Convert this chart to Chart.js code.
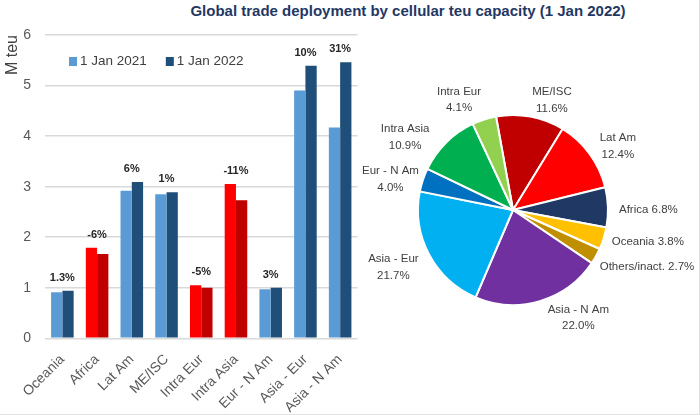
<!DOCTYPE html>
<html><head><meta charset="utf-8">
<script src="https://cdn.jsdelivr.net/npm/chart.js@4"></script>
<style>
html,body{margin:0;padding:0;background:#fff;}
#wrap{position:relative;width:700px;height:415px;overflow:hidden;box-sizing:border-box;border-right:1px solid #e2e2e2;border-bottom:1px solid #e2e2e2;}
#title{position:absolute;left:408px;top:2px;transform:translateX(-50%);white-space:nowrap;font:bold 15px "Liberation Sans",Arial,sans-serif;color:#1F3864;line-height:17px;}
#bar{position:absolute;left:0;top:0;}
#pie{position:absolute;left:340px;top:0;}
</style>
</head><body>
<div id="wrap">
<div id="title">Global trade deployment by cellular teu capacity (1 Jan 2022)</div>
<canvas id="bar" width="372" height="415"></canvas>
<canvas id="pie" width="359" height="415"></canvas>
</div>
<script>
// ---- data ----
const categories = ['Oceania','Africa','Lat Am','ME/ISC','Intra Eur','Intra Asia','Eur - N Am','Asia - Eur','Asia - N Am'];
const seriesNames = ['1 Jan 2021','1 Jan 2022'];
const teu2021 = [0.91,1.79,2.92,2.85,1.05,3.05,0.97,4.90,4.17];
const teu2022 = [0.94,1.67,3.09,2.89,1.00,2.73,1.00,5.39,5.46];
const changeLabels = ['1.3%','-6%','6%','1%','-5%','-11%','3%','10%','31%'];
const yTicks = [0,1,2,3,4,5,6];
const yTitle = 'M teu';
const pieLabels = ['ME/ISC','Lat Am','Africa','Oceania','Others/inact.','Asia - N Am','Asia - Eur','Eur - N Am','Intra Asia','Intra Eur'];
const pieShares = [11.6,12.4,6.8,3.8,2.7,22.0,21.7,4.0,10.9,4.1];

// ---- styles ----
const FONT = '"Liberation Sans", Arial, sans-serif';
const blue21 = '#5B9BD5', blue22 = '#1F4E79', red21 = '#FF0000', red22 = '#C00000';
const pieColors = ['#C00000','#FF0000','#1F3864','#FFC000','#BF8F00','#7030A0','#00B0F0','#0070C0','#00B050','#92D050'];
const pieLabelNudge = [[16,13],[4,10],[1,3],[-1.5,0],[-5,6],[30,-12],[-9,-1],[-4,9],[-20,16],[-16,9]];

const falling = teu2021.map((v,i)=> teu2022[i] < v);
const col21 = falling.map(f => f ? red21 : blue21);
const col22 = falling.map(f => f ? red22 : blue22);

const legendPlugin = {
  id:'insideLegend',
  afterDraw(chart){
    const ctx = chart.ctx, a = chart.chartArea;
    ctx.save();
    ctx.font = '13.5px ' + FONT;
    ctx.textBaseline = 'middle';
    let x = a.left + 24;
    const y = a.top + 26.5;
    [blue21, blue22].forEach((c,i)=>{
      ctx.fillStyle = c;
      ctx.fillRect(x, y-4.5, 8, 9);
      ctx.fillStyle = '#404040';
      ctx.fillText(seriesNames[i], x+11, y);
      x += 11 + ctx.measureText(seriesNames[i]).width + 19;
    });
    ctx.restore();
  }
};
const changePlugin = {
  id:'changeLabels',
  afterDatasetsDraw(chart){
    const ctx = chart.ctx;
    const m0 = chart.getDatasetMeta(0), m1 = chart.getDatasetMeta(1);
    ctx.save();
    ctx.font = 'bold 11px ' + FONT;
    ctx.fillStyle = '#262626';
    ctx.textAlign = 'center';
    ctx.textBaseline = 'middle';
    changeLabels.forEach((t,i)=>{
      const b0 = m0.data[i], b1 = m1.data[i];
      ctx.fillText(t, (b0.x+b1.x)/2, Math.min(b0.y,b1.y) - 13);
    });
    ctx.restore();
  }
};

new Chart(document.getElementById('bar'), {
  type:'bar',
  data:{
    labels: categories,
    datasets:[
      {label:seriesNames[0], data:teu2021, backgroundColor:col21, categoryPercentage:0.65, barPercentage:1},
      {label:seriesNames[1], data:teu2022, backgroundColor:col22, categoryPercentage:0.65, barPercentage:1}
    ]
  },
  options:{
    responsive:false, animation:false,
    layout:{padding:{top:35, right:14.5, left:0, bottom:0}},
    plugins:{legend:{display:false}, tooltip:{enabled:false}},
    scales:{
      x:{
        grid:{display:false, drawTicks:false},
        border:{display:false},
        ticks:{maxRotation:45, minRotation:45, font:{family:FONT, size:14}, color:'#595959', padding:13},
        afterFit(s){ s.height = 76.7; }
      },
      y:{
        min:yTicks[0], max:yTicks[yTicks.length-1],
        afterBuildTicks(s){ s.ticks = yTicks.map(v=>({value:v})); },
        grid:{color:'#D9D9D9', lineWidth:1.5, drawTicks:false},
        border:{display:false},
        ticks:{font:{family:FONT, size:14}, color:'#595959', padding:14},
        title:{display:true, text:yTitle, align:'end', font:{family:FONT, size:16}, color:'#404040', padding:{top:3, bottom:0}},
        afterFit(s){ s.width = 45; }
      }
    }
  },
  plugins:[legendPlugin, changePlugin]
});

const pieLabelPlugin = {
  id:'pieLabels',
  afterDatasetsDraw(chart){
    const ctx = chart.ctx;
    const meta = chart.getDatasetMeta(0);
    ctx.save();
    ctx.font = '11.5px ' + FONT;
    ctx.fillStyle = '#404040';
    ctx.textBaseline = 'middle';
    meta.data.forEach((arc,i)=>{
      const mid = (arc.startAngle + arc.endAngle)/2;
      const dx = Math.cos(mid), dy = Math.sin(mid);
      const pct = pieShares[i].toFixed(1) + '%';
      const [nx, ny] = pieLabelNudge[i];
      if (dx > 0 && Math.abs(dy) < 0.5) {
        const r = arc.outerRadius + 10;
        ctx.textAlign = 'left';
        ctx.fillText(pieLabels[i] + ' ' + pct, arc.x + dx*r + nx, arc.y + dy*r + ny);
      } else {
        const r = arc.outerRadius + 30;
        const cx = arc.x + dx*r + nx, cy = arc.y + dy*r + ny;
        ctx.textAlign = 'center';
        ctx.fillText(pieLabels[i], cx, cy - 8.25);
        ctx.fillText(pct, cx, cy + 8.25);
      }
    });
    ctx.restore();
  }
};

new Chart(document.getElementById('pie'), {
  type:'pie',
  data:{labels:pieLabels, datasets:[{data:pieShares, backgroundColor:pieColors, borderColor:'#ffffff', borderWidth:2}]},
  options:{
    responsive:false, animation:false,
    rotation:-10.3, radius:95,
    layout:{padding:{left:78, right:91, top:115, bottom:110}},
    plugins:{legend:{display:false}, tooltip:{enabled:false}}
  },
  plugins:[pieLabelPlugin]
});
</script>
</body></html>
